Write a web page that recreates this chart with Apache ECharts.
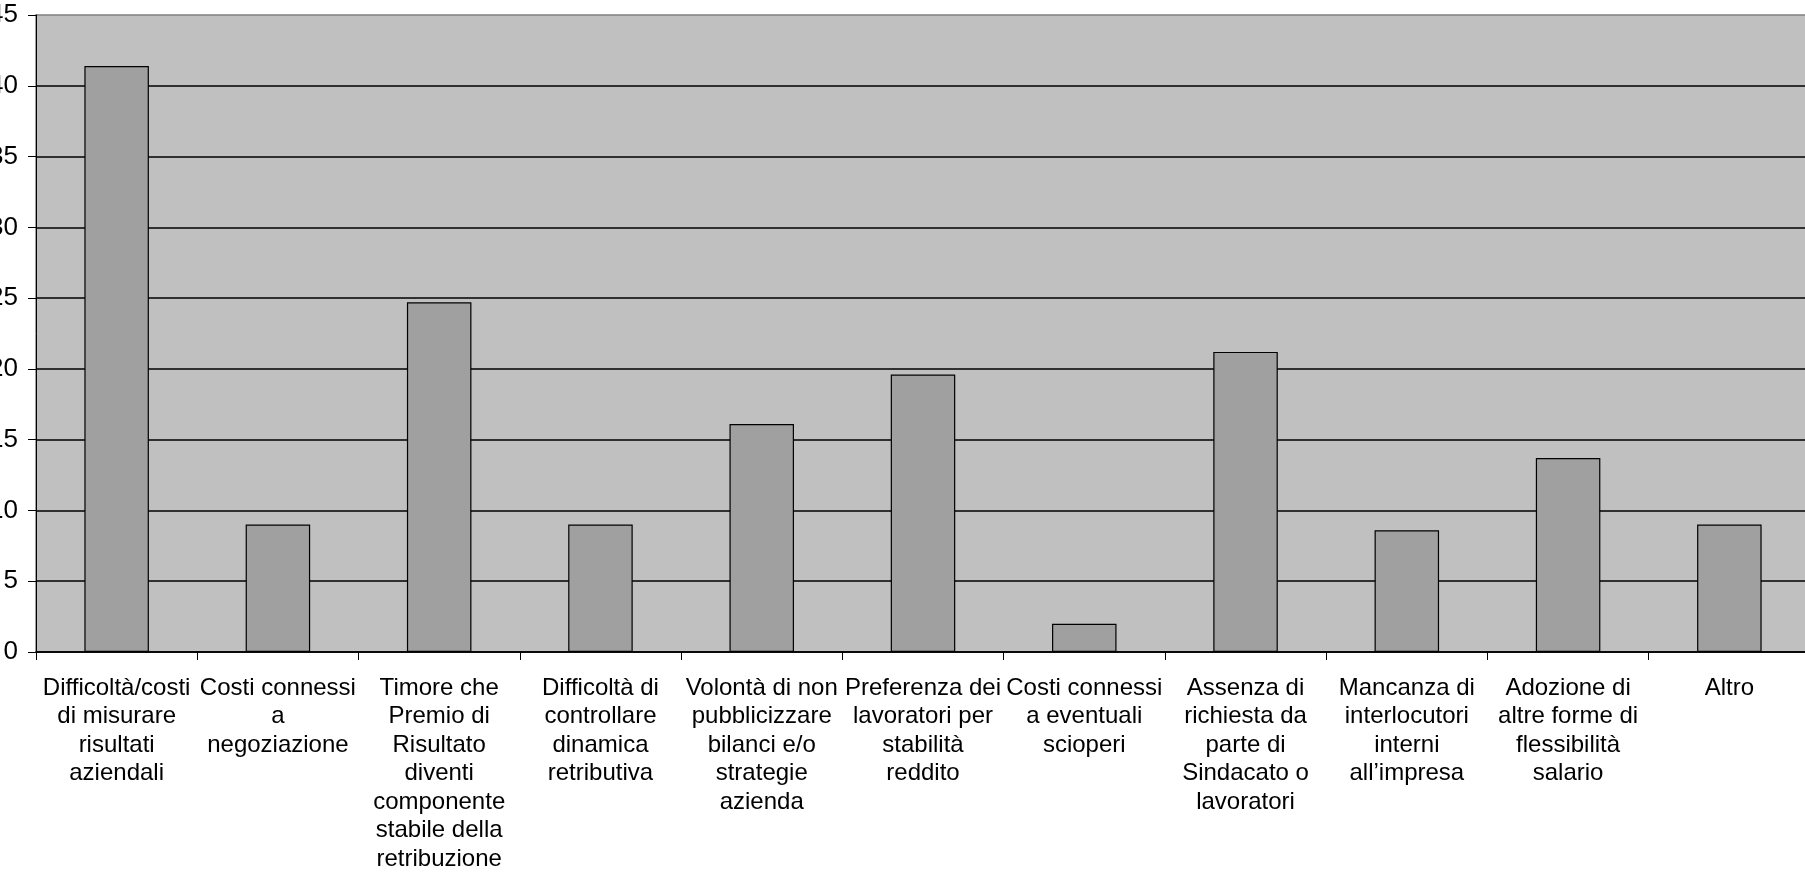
<!DOCTYPE html>
<html>
<head>
<meta charset="utf-8">
<script src="https://cdn.jsdelivr.net/npm/echarts@6/dist/echarts.min.js"></script>
<style>
  html, body { margin: 0; padding: 0; background: #ffffff; }
  #chart { width: 1805px; height: 878px; }
</style>
</head>
<body>
<div id="chart"></div>
<script>
// Motivi della mancata adozione del Premio di Risultato
const categories = [
  'Difficoltà/costi\ndi misurare\nrisultati\naziendali',
  'Costi connessi\na\nnegoziazione',
  'Timore che\nPremio di\nRisultato\ndiventi\ncomponente\nstabile della\nretribuzione',
  'Difficoltà di\ncontrollare\ndinamica\nretributiva',
  'Volontà di non\npubblicizzare\nbilanci e/o\nstrategie\nazienda',
  'Preferenza dei\nlavoratori per\nstabilità\nreddito',
  'Costi connessi\na eventuali\nscioperi',
  'Assenza di\nrichiesta da\nparte di\nSindacato o\nlavoratori',
  'Mancanza di\ninterlocutori\ninterni\nall’impresa',
  'Adozione di\naltre forme di\nflessibilità\nsalario',
  'Altro'
];
const values = [41.4, 9.0, 24.7, 9.0, 16.1, 19.6, 2.0, 21.2, 8.6, 13.7, 9.0];
const yTicks = [0, 5, 10, 15, 20, 25, 30, 35, 40, 45];

const font = 'Liberation Sans, Arial, sans-serif';
const chart = echarts.init(document.getElementById('chart'), null, { renderer: 'canvas' });
chart.setOption({
  animation: false,
  backgroundColor: '#ffffff',
  grid: {
    left: 36,
    top: 15,
    width: 1774,
    bottom: 226,
    containLabel: false,
    outerBoundsMode: 'none',
    show: true,
    backgroundColor: '#c0c0c0',
    borderColor: '#808080',
    borderWidth: 1.5
  },
  xAxis: {
    type: 'category',
    data: categories,
    axisLine: { lineStyle: { color: '#000', width: 1.5 } },
    axisTick: { show: true, length: 8, lineStyle: { color: '#000', width: 1 } },
    axisLabel: {
      interval: 0,
      margin: 22,
      color: '#000',
      fontFamily: font,
      fontSize: 24,
      lineHeight: 28.5,
      align: 'center',
      hideOverlap: false
    },
    splitLine: { show: false }
  },
  yAxis: {
    type: 'value',
    min: yTicks[0],
    max: yTicks[yTicks.length - 1],
    interval: 5,
    axisLine: { show: true, lineStyle: { color: '#000', width: 1 } },
    axisTick: { show: true, length: 8, lineStyle: { color: '#000', width: 1 } },
    axisLabel: {
      margin: 18,
      color: '#000',
      fontFamily: font,
      fontSize: 26
    },
    splitLine: { show: true, showMaxLine: false, lineStyle: { color: '#000', width: 1.5 } }
  },
  series: [{
    type: 'bar',
    data: values,
    barWidth: '40%',
    itemStyle: { color: '#a0a0a0', borderColor: '#000', borderWidth: 1.2 }
  }]
});
</script>
</body>
</html>
